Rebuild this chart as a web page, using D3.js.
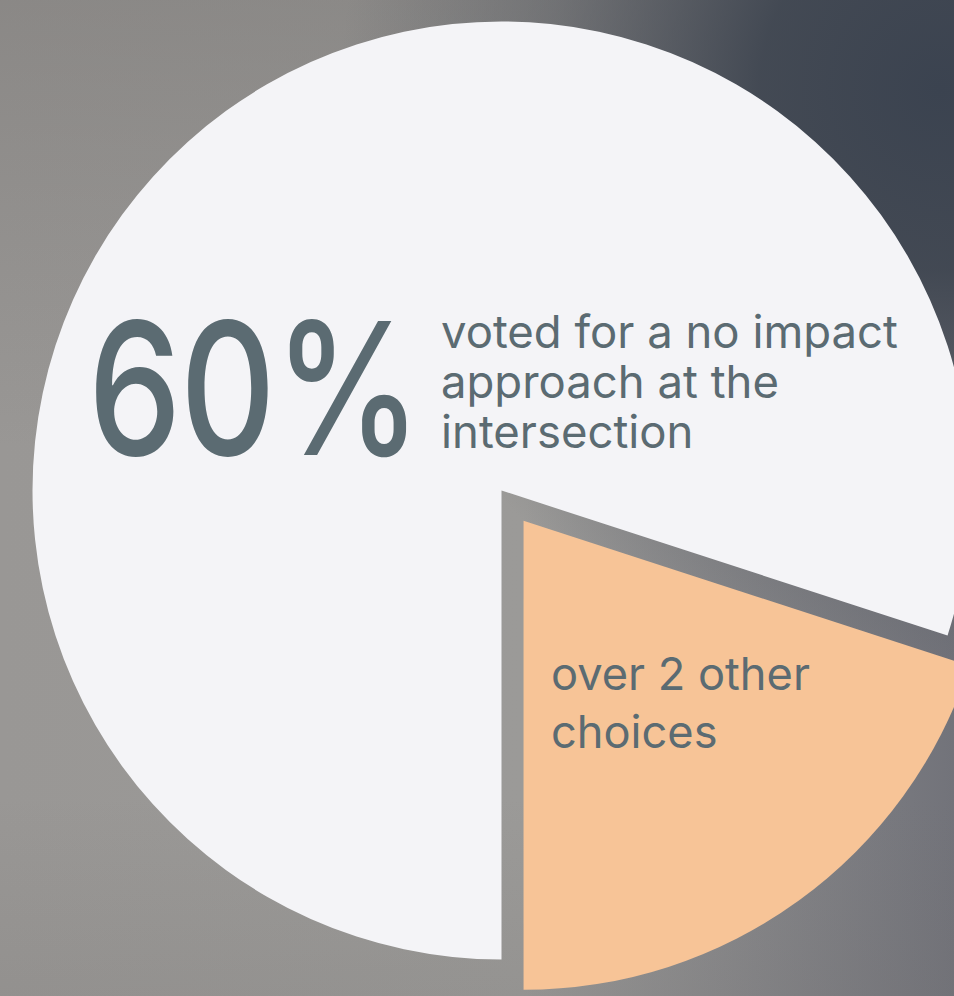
<!DOCTYPE html>
<html>
<head>
<meta charset="utf-8">
<script src="https://cdn.jsdelivr.net/npm/d3@7"></script>
<style>
  html, body { margin: 0; padding: 0; overflow: hidden; }
  svg { display: block; }
</style>
</head>
<body>
<svg></svg>
<script>
// data
var categories = ["no impact approach", "other choices"];
var values = [80, 20];
var bigLabel = "60%";
var mainLines = ["voted for a no impact", "approach at the", "intersection"];
var otherLines = ["over 2 other", "choices"];
var colors = ["#f4f4f7", "#f7c497"];

window.onload = function() {
  var width = 954, height = 996;
  var cx = 501.5, cy = 490.5, r = 469, explode = 37.5;
  var textColor = "#5b6b72";
  var font = "Inter, 'Open Sans', sans-serif";

  var svg = d3.select("svg").attr("width", width).attr("height", height);
  var defs = svg.append("defs");

  // background
  var lin = defs.append("linearGradient").attr("id", "bgx")
    .attr("x1", 0).attr("y1", 0).attr("x2", 1).attr("y2", 0);
  lin.append("stop").attr("offset", 0).attr("stop-color", "#999795");
  lin.append("stop").attr("offset", 0.55).attr("stop-color", "#9b9a98");
  lin.append("stop").attr("offset", 1).attr("stop-color", "#72737a");

  var top = defs.append("linearGradient").attr("id", "bgy")
    .attr("x1", 0).attr("y1", 0).attr("x2", 0).attr("y2", 1);
  top.append("stop").attr("offset", 0).attr("stop-color", "#6f6c6a").attr("stop-opacity", 0.35);
  top.append("stop").attr("offset", 0.45).attr("stop-color", "#6f6c6a").attr("stop-opacity", 0);
  top.append("stop").attr("offset", 0.8).attr("stop-color", "#6f6c6a").attr("stop-opacity", 0);
  top.append("stop").attr("offset", 1).attr("stop-color", "#6f6c6a").attr("stop-opacity", 0.15);

  var rad = defs.append("radialGradient").attr("id", "bgr")
    .attr("gradientUnits", "userSpaceOnUse")
    .attr("cx", 940).attr("cy", 90).attr("r", 600);
  rad.append("stop").attr("offset", 0).attr("stop-color", "#3b4350").attr("stop-opacity", 1);
  rad.append("stop").attr("offset", 0.3).attr("stop-color", "#3e4550").attr("stop-opacity", 0.92);
  rad.append("stop").attr("offset", 0.65).attr("stop-color", "#4a4f58").attr("stop-opacity", 0.4);
  rad.append("stop").attr("offset", 1).attr("stop-color", "#4a4f58").attr("stop-opacity", 0);

  svg.append("rect").attr("width", width).attr("height", height).attr("fill", "url(#bgx)");
  svg.append("rect").attr("width", width).attr("height", height).attr("fill", "url(#bgy)");
  svg.append("rect").attr("width", width).attr("height", height).attr("fill", "url(#bgr)");

  // pie
  var pie = d3.pie().sort(null).startAngle(Math.PI).endAngle(Math.PI * 3);
  var arc = d3.arc().innerRadius(0).outerRadius(r);
  var arcs = pie(values);

  var g = svg.append("g").attr("transform", "translate(" + cx + "," + cy + ")");
  g.selectAll("path.slice")
    .data(arcs)
    .enter().append("path")
      .attr("class", "slice")
      .attr("d", arc)
      .attr("fill", function(d, i) { return colors[i]; })
      .attr("transform", function(d, i) {
        if (i == 0) return null;
        var a = (d.startAngle + d.endAngle) / 2;
        return "translate(" + (Math.sin(a) * explode) + "," + (-Math.cos(a) * explode) + ")";
      });

  // big percentage: size by cap height, squeeze horizontally to the width
  var big = svg.append("text")
    .attr("x", 0).attr("y", 0)
    .attr("font-family", font)
    .attr("font-weight", 500)
    .attr("font-size", 184)
    .attr("letter-spacing", -2)
    .attr("fill", textColor)
    .text(bigLabel);
  var bb = big.node().getBBox();
  var sx = 332 / bb.width;
  big.attr("transform", "translate(" + (88 - bb.x * sx) + ",455) scale(" + sx + ",1)");

  var t1 = svg.append("g").attr("font-family", font).attr("fill", textColor);
  var l1 = t1.selectAll("text").data(mainLines).enter().append("text")
    .attr("x", 441)
    .attr("y", function(d, i) { return 348 + i * 50; })
    .attr("font-size", 45)
    .text(function(d) { return d; });
  var w1 = l1.nodes()[0].getComputedTextLength();
  l1.attr("font-size", 45 * 457 / w1);

  var t2 = svg.append("g").attr("font-family", font).attr("fill", textColor);
  var l2 = t2.selectAll("text").data(otherLines).enter().append("text")
    .attr("x", 551)
    .attr("y", function(d, i) { return 690 + i * 58; })
    .attr("font-size", 45)
    .text(function(d) { return d; });
  var w2 = l2.nodes()[0].getComputedTextLength();
  l2.attr("font-size", 45 * 259 / w2);
};
</script>
</body>
</html>
